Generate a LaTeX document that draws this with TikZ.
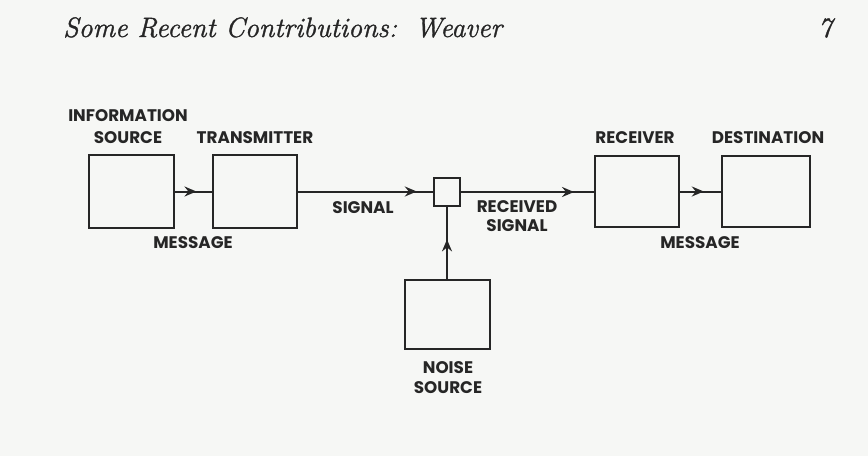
\documentclass[tikz,border=0pt]{standalone}
\usepackage{fontspec}
\setsansfont{Poppins}
\newfontfamily\hdrfont{Latin Modern Roman}[FakeBold=1.2]
\usetikzlibrary{arrows.meta,decorations.markings}
\definecolor{paper}{HTML}{F6F7F5}
\definecolor{ink}{HTML}{262626}
\begin{document}
\begin{tikzpicture}[x=1pt,y=-1pt,
  box/.style={draw=ink, line width=2pt, inner sep=0pt},
  lbl/.style={text=ink, font=\sffamily\bfseries\fontsize{16.8}{18}\selectfont, inner sep=0pt},
  conn/.style={draw=ink, line width=2pt},
  midarrow/.style={postaction={decorate}, decoration={markings, mark=at position #1 with {\arrow[ink]{Stealth[length=12pt,width=10pt,inset=4pt]}}}}]
\fill[paper] (0,0) rectangle (868,456);
\useasboundingbox (0,0) rectangle (868,456);
% header
\node[anchor=base west, inner sep=0pt, text=ink, font=\hdrfont\itshape\fontsize{28}{30}\selectfont] (hdr) at (63,37) {Some Recent Contributions:\, Weaver};
\node[anchor=base, inner sep=0pt, text=ink, font=\hdrfont\itshape\fontsize{28}{30}\selectfont] (pg) at (825,37) {7};
% boxes
\node[box, minimum width=85pt, minimum height=73pt] (src) at (131.5,191.5) {};
\node[box, minimum width=84pt, minimum height=73pt] (trans) at (255,191.5) {};
\node[box, minimum width=26pt, minimum height=28pt] (mix) at (447,192) {};
\node[box, minimum width=84pt, minimum height=71pt] (rec) at (637,191.5) {};
\node[box, minimum width=88pt, minimum height=71pt] (dest) at (766,191.5) {};
\node[box, minimum width=85pt, minimum height=69pt] (noise) at (447,314.5) {};
% connectors
\draw[conn, midarrow=0.58] (src.east) -- (trans.west);
\draw[conn, midarrow=0.88] (trans.east) -- (trans.east -| mix.west);
\draw[conn, midarrow=0.85] (mix.east) -- (mix.east -| rec.west);
\draw[conn, midarrow=0.58] (rec.east) -- (dest.west);
\draw[conn, midarrow=0.55] (noise.north) -- (mix.south);
% labels
\node[lbl] (l1) at (128,116) {INFORMATION};
\node[lbl] (l2) at (128,138) {SOURCE};
\node[lbl] (l3) at (255,138) {TRANSMITTER};
\node[lbl] (l4) at (363,208) {SIGNAL};
\node[lbl] (l5) at (193,243) {MESSAGE};
\node[lbl] (l6) at (635,138) {RECEIVER};
\node[lbl] (l7) at (768,138) {DESTINATION};
\node[lbl] (l8) at (517,207) {RECEIVED};
\node[lbl] (l9) at (517,226) {SIGNAL};
\node[lbl] (l10) at (700,243) {MESSAGE};
\node[lbl] (l11) at (448,368) {NOISE};
\node[lbl] (l12) at (448,388) {SOURCE};
\end{tikzpicture}
\end{document}
